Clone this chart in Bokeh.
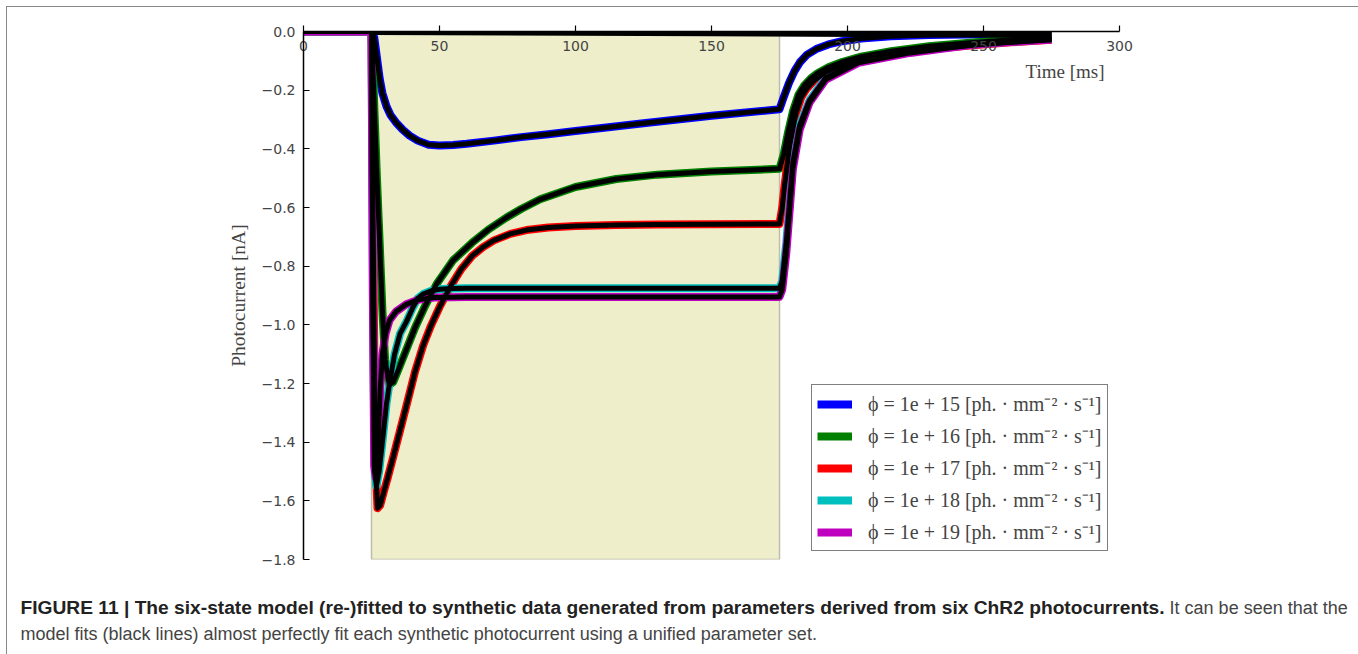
from bokeh.plotting import figure
from bokeh.layouts import column
from bokeh.models import (Range1d, LinearAxis, FixedTicker, CustomJSTickFormatter,
                          Legend, LegendItem, Label, Div)
from bokeh.embed import file_html
from bokeh.resources import INLINE

# ---------------- data ----------------
pulse_on = [25]
pulse_off = [175]
y_min, y_max = -1.8, 0.0
x_ticks = [0, 50, 100, 150, 200, 250, 300]
y_ticks = [-1.8, -1.6, -1.4, -1.2, -1.0, -0.8, -0.6, -0.4, -0.2, 0.0]

labels = [
    "\u03d5 = 1e + 15 [ph. \u00b7 mm\u207b\u00b2 \u00b7 s\u207b\u00b9]",
    "\u03d5 = 1e + 16 [ph. \u00b7 mm\u207b\u00b2 \u00b7 s\u207b\u00b9]",
    "\u03d5 = 1e + 17 [ph. \u00b7 mm\u207b\u00b2 \u00b7 s\u207b\u00b9]",
    "\u03d5 = 1e + 18 [ph. \u00b7 mm\u207b\u00b2 \u00b7 s\u207b\u00b9]",
    "\u03d5 = 1e + 19 [ph. \u00b7 mm\u207b\u00b2 \u00b7 s\u207b\u00b9]",
]
colors = ["#0000ff", "#007f00", "#ff0000", "#00bfbf", "#bf00bf"]

t_blue = [0, 25, 26, 27, 28, 29, 30.5, 32, 34, 36.5, 39, 42, 46, 50, 55, 60, 70, 80, 90, 100,
          125, 150, 175, 176.5, 178.5, 180.5, 182.5, 185, 188.5, 193, 198, 205, 216, 230, 250, 275]
i_blue = [0, 0, -0.02, -0.09, -0.16, -0.21, -0.255, -0.285, -0.31, -0.335, -0.355, -0.372, -0.386,
          -0.389, -0.387, -0.383, -0.372, -0.36, -0.35, -0.339, -0.313, -0.287, -0.265, -0.225,
          -0.175, -0.135, -0.105, -0.08, -0.06, -0.044, -0.033, -0.024, -0.016, -0.012, -0.009, -0.007]

t_green = [0, 25, 26, 27, 28, 29, 30, 31.5, 33, 35, 38, 41, 45, 49, 55, 62, 68, 74.5, 80, 87, 100,
           115, 130, 150, 175, 176.5, 178, 180, 182, 184, 186.5, 189, 193, 198, 205, 216, 230,
           245, 260, 275]
i_green = [0, 0, -0.25, -0.5, -0.72, -0.95, -1.12, -1.205, -1.195, -1.15, -1.08, -1.01, -0.93,
           -0.86, -0.78, -0.72, -0.675, -0.635, -0.605, -0.572, -0.53, -0.503, -0.488, -0.477,
           -0.468, -0.42, -0.35, -0.27, -0.215, -0.185, -0.16, -0.142, -0.122, -0.104, -0.086,
           -0.067, -0.05, -0.038, -0.028, -0.02]

t_red = [0, 25, 25.7, 26.4, 27.2, 28.2, 29.5, 31, 33, 35.5, 38, 41, 44, 47, 50, 54, 58, 62, 66, 70,
         76, 82, 90, 100, 115, 130, 150, 175, 176, 176.8, 178.7, 181, 183, 185, 188, 192, 198, 204,
         213, 223, 235, 247, 260, 275]
i_red = [0, 0, -0.8, -1.45, -1.625, -1.615, -1.57, -1.52, -1.45, -1.36, -1.27, -1.16, -1.07, -1.0,
         -0.94, -0.87, -0.81, -0.765, -0.735, -0.712, -0.69, -0.677, -0.668, -0.663, -0.66, -0.658,
         -0.657, -0.656, -0.6, -0.53, -0.39, -0.28, -0.225, -0.195, -0.165, -0.138, -0.114, -0.098,
         -0.082, -0.069, -0.056, -0.046, -0.037, -0.028]

t_cyan = [0, 25, 25.6, 26.2, 26.8, 27.8, 29, 30.5, 31.6, 33.5, 35.5, 37.8, 40, 42, 44, 47, 50, 55,
          60, 100, 175, 176, 177.5, 179.9, 182.4, 186, 192, 204, 223, 247, 275]
i_cyan = [0, 0, -1.0, -1.5, -1.55, -1.5, -1.4, -1.27, -1.2, -1.1, -1.03, -0.99, -0.945, -0.91,
          -0.895, -0.884, -0.879, -0.876, -0.875, -0.875, -0.875, -0.85, -0.72, -0.45, -0.32,
          -0.235, -0.158, -0.103, -0.07, -0.043, -0.026]

t_magenta = [0, 25, 25.5, 26, 26.6, 27.4, 28.2, 29, 30.2, 31.6, 34, 37.8, 42, 48, 60, 100, 175, 176,
             177.5, 179.9, 182.4, 186, 192, 204, 223, 247, 275]
i_magenta = [0, 0, -0.9, -1.48, -1.52, -1.4, -1.22, -1.1, -1.03, -0.985, -0.955, -0.93, -0.915,
             -0.907, -0.905, -0.905, -0.905, -0.88, -0.756, -0.47, -0.335, -0.243, -0.164, -0.107,
             -0.073, -0.044, -0.027]

t_base = [25, 150, 275]
i_base = [-0.002, -0.006, -0.012]

series = [(t_blue, i_blue), (t_green, i_green), (t_red, i_red), (t_cyan, i_cyan), (t_magenta, i_magenta)]

caption_bold = ("FIGURE 11 | The six-state model (re-)fitted to synthetic data generated from "
                "parameters derived from six ChR2 photocurrents.")
caption_rest1 = "It can be seen that the"
caption_rest2 = ("model fits (black lines) almost perfectly fit each synthetic photocurrent "
                 "using a unified parameter set.")

# ---------------- main figure ----------------
p = figure(width=1345, height=583, x_range=Range1d(0, 300), y_range=Range1d(y_min, y_max),
           output_backend="svg", toolbar_location=None, x_axis_location=None,
           y_axis_location="left", min_border_left=296, min_border_right=233,
           min_border_top=24, min_border_bottom=31)
p.xgrid.visible = False
p.ygrid.visible = False
p.outline_line_color = None

# stimulus window
p.quad(left=pulse_on, right=pulse_off, bottom=[y_min], top=[y_max],
       fill_color="#eeeecb", line_color="#bdbdae", line_width=1.5)

# data
renderers = []
for (t, v), c in zip(series, colors):
    renderers.append(p.line(t, v, line_color=c, line_width=8, line_join="round"))
# model fits
for (t, v) in series:
    p.line(t, v, line_color="black", line_width=5, line_join="round")
p.line(t_base, i_base, line_color="black", line_width=6)

# y axis
yax = p.yaxis[0]
yax.ticker = FixedTicker(ticks=y_ticks)
yax.formatter = CustomJSTickFormatter(code="return tick.toFixed(1).replace('-', '\u2212');")
yax.major_tick_in = 6
yax.major_tick_out = 0
yax.minor_tick_line_color = None
yax.axis_line_width = 1.5
yax.major_tick_line_width = 1.2
yax.major_label_text_font = "DejaVu Sans"
yax.major_label_text_font_size = "14px"
yax.major_label_standoff = 8
yax.axis_label = "Photocurrent [nA]"
yax.axis_label_text_font = "Liberation Serif"
yax.axis_label_text_font_style = "normal"
yax.axis_label_text_font_size = "19.5px"
yax.axis_label_standoff = 10

# x axis along y = 0 (top edge): ticks point up, labels sit below the line
xax = LinearAxis(ticker=FixedTicker(ticks=x_ticks))
xax.major_tick_in = 0
xax.major_tick_out = 6
xax.minor_tick_line_color = None
xax.axis_line_width = 1.5
xax.major_tick_line_width = 1.2
xax.major_label_text_font = "DejaVu Sans"
xax.major_label_text_font_size = "14px"
xax.major_label_standoff = -25
p.add_layout(xax, "above")

p.add_layout(Label(x=294.5, y=-0.137, text="Time [ms]", text_font="Liberation Serif",
                   text_font_size="19px", text_align="right", text_baseline="middle"))

legend = Legend(items=[LegendItem(label=l, renderers=[r]) for l, r in zip(labels, renderers)],
                location=(508, 8), border_line_color="black", border_line_width=1.5,
                background_fill_color="white", background_fill_alpha=1.0,
                padding=5, spacing=5, label_height=22, glyph_height=22, glyph_width=35,
                label_standoff=16, label_text_font="Liberation Serif",
                label_text_font_size="20px", margin=0)
legend.glyph_width = 35
p.add_layout(legend)

# ---------------- caption ----------------
cap_html = ('<b style="font-size:19.2px;color:#222222">' + caption_bold + '</b> '
            + caption_rest1 + '<br>' + caption_rest2)
cap = Div(text=cap_html, width=1345, height=60,
          styles={"font-family": "'Liberation Sans Narrow', 'Liberation Sans', sans-serif",
                  "font-size": "18px", "color": "#444444", "line-height": "26px",
                  "padding-left": "8.5px", "padding-top": "0px", "white-space": "nowrap",
                  "box-sizing": "border-box"})

layout = column(p, cap, spacing=0, margin=(6, 0, 0, 6),
                styles={"border-top": "1.5px solid #888888", "border-left": "1.5px solid #888888",
                        "border-right": "1.5px solid #888888"})

open("out.html", "w").write(file_html(layout, INLINE))
